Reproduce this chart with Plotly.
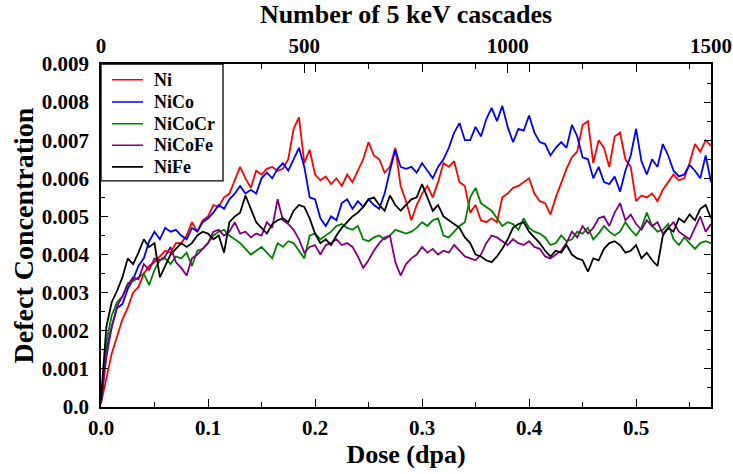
import plotly.graph_objects as go

# Defect concentration vs. dose, sampled every 0.005 dpa (values in units of 1e-3)
DOSE_STEP = 0.005

NI = [
    0.1, 0.8, 1.4, 1.85, 2.3, 2.6, 3.0, 3.15, 3.5, 3.7,
    3.8, 3.95, 4.1, 4.05, 4.3, 4.3, 4.5, 4.85, 4.6, 4.9,
    5.0, 5.3, 5.25, 5.5, 5.6, 5.95, 6.3, 6.0, 5.75, 6.2,
    6.1, 6.25, 6.3, 6.2, 6.25, 6.5, 7.3, 7.6, 6.4, 6.75,
    6.1, 5.95, 6.05, 5.85, 6.0, 5.8, 6.1, 5.9, 6.2, 6.5,
    6.95, 6.6, 6.5, 6.15, 6.3, 6.8, 5.8, 5.4, 4.9, 5.3,
    5.6, 5.8, 5.5, 5.9, 6.4, 6.3, 6.45, 5.9, 5.8, 5.1,
    5.3, 4.9, 4.85, 4.95, 4.85, 5.5, 5.6, 5.75, 5.8, 5.9,
    6.0, 5.6, 5.4, 5.35, 5.05, 5.5, 5.9, 6.25, 6.55, 6.7,
    7.4, 7.5, 6.4, 7.0, 6.8, 6.3, 7.1, 7.2, 6.5, 6.3,
    5.4, 5.55, 5.5, 5.6, 5.4, 5.7, 5.9, 6.1, 5.95, 6.0,
    6.4, 6.9, 6.7, 7.0, 6.85,
]

NICO = [
    0.1, 1.5, 2.1, 2.6, 2.7, 3.1, 3.35, 3.7, 3.9, 4.35,
    4.6, 4.4, 4.7, 4.6, 4.65, 4.5, 4.4, 4.7, 4.6, 4.85,
    4.95, 5.1, 5.3, 5.2, 5.45, 5.6, 5.8, 5.6, 5.7, 5.6,
    6.0, 6.15, 6.0, 6.25, 6.4, 6.2, 6.5, 6.8, 6.3, 5.5,
    5.45, 4.95, 4.75, 5.0, 4.9, 5.35, 5.45, 5.2, 5.4, 5.25,
    5.45, 5.3, 5.2, 5.6, 6.2, 6.75, 6.3, 6.25, 6.3, 6.15,
    6.4, 6.2, 6.0, 6.3, 6.5, 6.8, 7.2, 7.45, 7.0, 7.0,
    7.35, 7.1, 7.55, 7.85, 7.5, 7.9, 7.35, 6.95, 7.3, 7.25,
    7.65, 7.2, 6.95, 6.9, 6.6, 6.8, 6.95, 6.8, 7.4, 7.1,
    6.55, 6.5, 6.0, 6.3, 5.9, 5.85, 6.05, 5.65, 6.2, 6.6,
    7.3, 6.45, 6.1, 6.5, 6.3, 6.9, 6.6, 6.2, 6.05, 6.1,
    6.35, 6.2, 6.0, 6.6, 5.9,
]

NICOCR = [
    0.1, 1.7, 2.4, 2.75, 2.9, 3.25, 3.3, 3.4, 3.5, 3.2,
    3.6, 3.85, 3.9, 3.75, 3.95, 3.9, 4.05, 3.7, 4.1, 4.15,
    4.3, 4.5, 4.6, 4.65, 4.5, 4.4, 4.3, 4.15, 4.0, 4.1,
    4.2, 4.05, 3.9, 4.3, 4.2, 4.35, 4.3, 4.1, 3.9, 4.5,
    4.55, 4.4, 4.5, 4.6, 4.75, 4.8, 4.7, 4.65, 4.75, 4.4,
    4.35, 4.45, 4.5, 4.4, 4.5, 4.65, 4.6, 4.55, 4.6, 4.7,
    4.85, 4.75, 4.9, 4.95, 4.5, 4.45, 4.6, 4.75, 4.85, 5.5,
    5.75, 5.35, 5.25, 5.15, 4.95, 4.75, 4.85, 4.8, 4.65, 4.95,
    4.7, 4.6, 4.55, 4.45, 4.25, 4.3, 4.5, 4.35, 4.4, 4.6,
    4.55, 4.7, 4.4, 4.55, 4.75, 4.6, 4.5, 4.6, 4.85, 4.65,
    4.5, 4.7, 5.1, 4.75, 4.6, 4.65, 4.8, 4.4, 4.25, 4.45,
    4.3, 4.15, 4.3, 4.35, 4.3,
]

NICOFE = [
    0.1, 1.3, 2.1, 2.65, 2.9, 3.2, 3.4, 3.35, 3.75, 3.6,
    3.9, 3.85, 3.95, 4.2, 3.8, 3.65, 3.45, 3.9, 4.0, 4.15,
    4.3, 4.6, 4.65, 4.5, 4.6, 4.85, 4.55, 4.6, 4.45, 4.55,
    4.5, 4.85, 4.7, 5.45, 4.9, 4.8, 4.65, 4.4, 4.05, 4.2,
    4.25, 4.0, 4.25, 4.3, 4.4, 4.25, 4.3, 4.2, 3.95, 3.65,
    3.85, 4.1, 4.3, 4.45, 4.5, 3.8, 3.45, 3.75, 3.9, 4.0,
    4.2, 4.05, 4.15, 4.0, 4.1, 4.05, 4.25, 4.1, 3.95, 3.9,
    3.85, 4.0, 4.3, 4.5, 4.45, 4.35, 4.25, 4.4, 4.3, 4.25,
    4.35, 4.2, 4.15, 3.95, 3.9, 4.0, 4.1, 4.3, 4.6, 4.45,
    4.75, 4.55, 4.7, 4.95, 5.0, 4.75, 5.1, 5.35, 4.9, 5.05,
    4.8, 4.65, 4.9, 4.75, 4.85, 4.55, 4.7, 4.85, 4.6, 4.5,
    4.4, 4.7, 5.0, 4.6, 4.8,
]

NIFE = [
    0.2, 2.1, 2.75, 3.05, 3.4, 3.9, 3.75, 4.05, 4.4, 4.2,
    4.3, 3.4, 3.7, 4.0, 4.15, 4.3, 4.2, 4.3, 4.5, 4.6,
    4.55, 4.4, 4.5, 4.05, 4.85, 5.0, 5.1, 5.55, 5.2, 4.85,
    4.7, 4.55, 4.8, 4.9, 4.95, 4.85, 5.15, 5.3, 5.25, 4.95,
    4.55, 4.3, 4.4, 4.25, 4.5, 4.7, 4.85, 5.0, 5.1, 5.25,
    5.45, 5.5, 5.3, 5.15, 5.55, 5.3, 5.15, 5.3, 5.45, 5.5,
    5.85, 5.5, 5.15, 5.3, 5.0, 4.9, 4.8, 4.7, 4.45, 4.3,
    4.0, 3.95, 3.85, 3.8, 3.95, 4.15, 4.4, 4.7, 4.8, 4.85,
    4.6, 4.45, 4.3, 4.1, 3.95, 4.1, 4.05, 4.25, 4.0, 3.9,
    3.85, 3.55, 3.9, 3.85, 4.15, 4.3, 4.35, 4.25, 4.05, 4.1,
    4.25, 3.9, 4.05, 3.85, 3.7, 4.5, 4.7, 4.6, 4.95, 4.85,
    5.05, 4.9, 5.2, 5.3, 4.95,
]

SERIES_NAMES = ["Ni", "NiCo", "NiCoCr", "NiCoFe", "NiFe"]
SERIES_VALUES = [NI, NICO, NICOCR, NICOFE, NIFE]
SERIES_COLORS = ["#ff0000", "#0000ff", "#008000", "#800080", "#000000"]

Y_TICKS = [0.0, 0.001, 0.002, 0.003, 0.004, 0.005, 0.006, 0.007, 0.008, 0.009]
Y_TICK_TEXT = ["0.0", "0.001", "0.002", "0.003", "0.004", "0.005",
               "0.006", "0.007", "0.008", "0.009"]
X_TICKS = [0.0, 0.1, 0.2, 0.3, 0.4, 0.5]
X_TICK_TEXT = ["0.0", "0.1", "0.2", "0.3", "0.4", "0.5"]
CASCADE_TICKS = [0, 500, 1000, 1500]

DOSE_MAX = 0.57
CASCADE_MAX = 1500

FONT = "Liberation Serif"

fig = go.Figure()
for name, vals, color in zip(SERIES_NAMES, SERIES_VALUES, SERIES_COLORS):
    dose = [round(i * DOSE_STEP, 3) for i in range(len(vals))]
    conc = [v / 1000.0 for v in vals]
    fig.add_trace(go.Scatter(
        x=dose, y=conc, mode="lines", name=name,
        line=dict(color=color, width=1.8),
        showlegend=False,
    ))

# invisible trace so the cascade axis is drawn on top
fig.add_trace(go.Scatter(
    x=[0, CASCADE_MAX], y=[None, None], xaxis="x2", mode="lines",
    showlegend=False, hoverinfo="skip",
))

# boxed legend in the upper-left corner of the plot area
LEG_X0, LEG_X1 = 0.0, 0.2
LEG_Y0, LEG_Y1 = 0.659, 1.0
LEG_ROW_Y = [0.954, 0.889, 0.826, 0.763, 0.700]
LEG_LINE_X0, LEG_LINE_X1 = 0.018, 0.069
LEG_TEXT_X = 0.083

shapes = [dict(
    type="rect", xref="paper", yref="paper",
    x0=LEG_X0, x1=LEG_X1, y0=LEG_Y0, y1=LEG_Y1,
    line=dict(color="black", width=1.3), fillcolor="white", layer="above",
)]
annotations = []
for name, color, ry in zip(SERIES_NAMES, SERIES_COLORS, LEG_ROW_Y):
    shapes.append(dict(
        type="line", xref="paper", yref="paper",
        x0=LEG_LINE_X0, x1=LEG_LINE_X1, y0=ry, y1=ry,
        line=dict(color=color, width=1.6), layer="above",
    ))
    annotations.append(dict(
        text=name, xref="paper", yref="paper", x=LEG_TEXT_X, y=ry,
        xanchor="left", yanchor="middle", showarrow=False,
        font=dict(family=FONT, size=18, color="black", weight="bold"),
    ))

tick_font = dict(family=FONT, size=21, color="black", weight="bold")
xtitle_font = dict(family=FONT, size=26, color="black", weight="bold")
ytitle_font = dict(family=FONT, size=28, color="black", weight="bold")

fig.update_layout(
    width=733, height=474,
    margin=dict(l=101, r=22, t=64, b=67),
    paper_bgcolor="white", plot_bgcolor="white",
    font=dict(family=FONT, color="black"),
    showlegend=False,
    shapes=shapes,
    annotations=annotations,
    xaxis=dict(
        range=[0, DOSE_MAX], tickvals=X_TICKS, ticktext=X_TICK_TEXT,
        ticks="inside", ticklen=8, tickwidth=1.3, tickcolor="black",
        minor=dict(dtick=0.05, ticks="inside", ticklen=5, tickwidth=1.3, tickcolor="black"),
        showline=True, linecolor="black", linewidth=1.6, mirror="ticks",
        showgrid=False, zeroline=False, automargin=False,
        tickfont=tick_font, ticklabelstandoff=1,
        title=dict(text="Dose (dpa)", font=xtitle_font, standoff=5),
    ),
    xaxis2=dict(
        overlaying="x", side="top", anchor="y",
        range=[0, CASCADE_MAX], tickvals=CASCADE_TICKS,
        ticks="inside", ticklen=9, tickwidth=1.3, tickcolor="black",
        showline=False, showgrid=False, zeroline=False, automargin=False,
        tickfont=tick_font, ticklabelstandoff=6,
        title=dict(text="Number of 5 keV cascades", font=xtitle_font, standoff=4),
    ),
    yaxis=dict(
        range=[0, 0.009], tickvals=Y_TICKS, ticktext=Y_TICK_TEXT,
        ticks="inside", ticklen=7, tickwidth=1.3, tickcolor="black",
        minor=dict(dtick=0.0005, ticks="inside", ticklen=4, tickwidth=1.3, tickcolor="black"),
        showline=True, linecolor="black", linewidth=1.6, mirror="ticks",
        showgrid=False, zeroline=False, automargin=False,
        tickfont=tick_font, ticklabelstandoff=6,
        title=dict(text="Defect Concentration", font=ytitle_font, standoff=0),
    ),
)

fig.write_html("out.html")
